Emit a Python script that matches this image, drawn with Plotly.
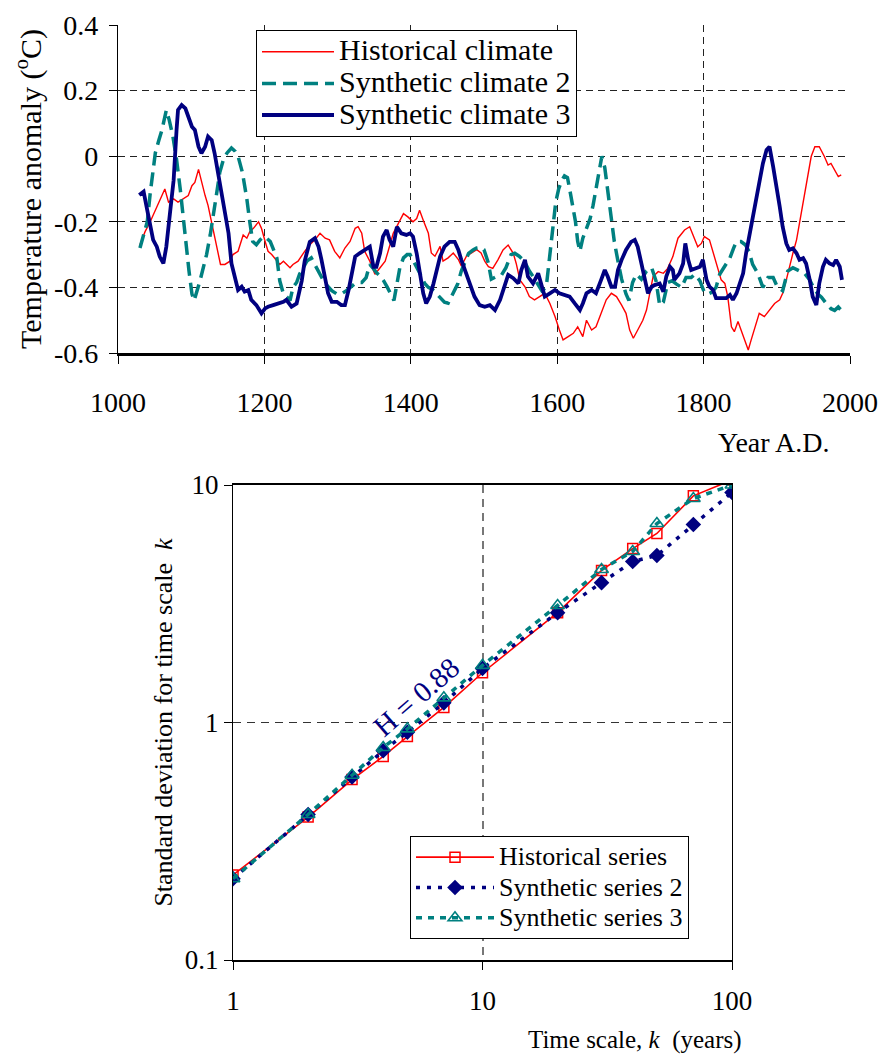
import plotly.graph_objects as go

FONT = "Liberation Serif"

# ---------------- Top chart data (temperature anomaly, deg C) ----------------
hist_years = [1030, 1037, 1044, 1050, 1057, 1064, 1069, 1076, 1082, 1089, 1096, 1101, 1105, 1110, 1114,
              1119, 1123, 1128, 1132, 1137, 1140, 1146, 1153, 1157, 1164, 1171, 1176, 1180, 1185, 1192,
              1196, 1201, 1205, 1210, 1217, 1221, 1226, 1230, 1235, 1239, 1246, 1255, 1262, 1269, 1276,
              1283, 1289, 1296, 1303, 1310, 1317, 1324, 1328, 1333, 1337, 1344, 1351, 1358, 1365, 1369,
              1376, 1383, 1390, 1396, 1403, 1408, 1412, 1417, 1424, 1428, 1433, 1440, 1444, 1451, 1458,
              1465, 1469, 1476, 1483, 1490, 1496, 1501, 1506, 1512, 1519, 1526, 1533, 1540, 1544, 1549,
              1556, 1562, 1569, 1576, 1583, 1590, 1597, 1603, 1608, 1615, 1622, 1628, 1635, 1640, 1647,
              1653, 1660, 1667, 1674, 1681, 1688, 1694, 1699, 1704, 1710, 1717, 1722, 1726, 1731, 1738,
              1745, 1751, 1758, 1765, 1774, 1781, 1788, 1792, 1797, 1801, 1808, 1815, 1820, 1824, 1829,
              1833, 1838, 1842, 1847, 1851, 1856, 1861, 1865, 1870, 1876, 1883, 1890, 1897, 1904, 1908,
              1913, 1917, 1922, 1927, 1931, 1936, 1942, 1947, 1952, 1958, 1965, 1970, 1974, 1979, 1984, 1988]
hist_vals = [-0.27, -0.23, -0.20, -0.17, -0.14, -0.10, -0.14, -0.13, -0.14, -0.13, -0.12, -0.09, -0.08, -0.04, -0.08,
             -0.12, -0.15, -0.20, -0.24, -0.29, -0.33, -0.33, -0.32, -0.30, -0.29, -0.24, -0.25, -0.23, -0.22, -0.20,
             -0.22, -0.26, -0.29, -0.30, -0.32, -0.33, -0.32, -0.33, -0.34, -0.33, -0.32, -0.29, -0.27, -0.255, -0.235,
             -0.25, -0.255, -0.29, -0.31, -0.28, -0.26, -0.22, -0.215, -0.235, -0.29, -0.32, -0.36, -0.34, -0.32, -0.29,
             -0.235, -0.205, -0.175, -0.185, -0.20, -0.19, -0.165, -0.195, -0.235, -0.295, -0.305, -0.275, -0.32, -0.31, -0.295,
             -0.315, -0.335, -0.305, -0.295, -0.285, -0.295, -0.32, -0.337, -0.342, -0.316, -0.286, -0.271, -0.296, -0.327, -0.377,
             -0.398, -0.428, -0.438, -0.428, -0.418, -0.449, -0.489, -0.53, -0.56, -0.55, -0.54, -0.52, -0.55, -0.50, -0.53,
             -0.52, -0.479, -0.438, -0.418, -0.428, -0.454, -0.479, -0.53, -0.555, -0.53, -0.50, -0.469, -0.428, -0.367, -0.352,
             -0.357, -0.342, -0.306, -0.25, -0.225, -0.215, -0.255, -0.276, -0.266, -0.245, -0.255, -0.306, -0.347, -0.377, -0.388,
             -0.428, -0.52, -0.535, -0.504, -0.53, -0.56, -0.591, -0.56, -0.52, -0.479, -0.489, -0.469, -0.449, -0.438, -0.418,
             -0.377, -0.337, -0.296, -0.255, -0.205, -0.134, -0.062, -0.001, 0.029, 0.029, -0.001, -0.027, -0.022, -0.042, -0.062, -0.057]

syn2_years = [1030, 1035, 1040, 1044, 1048, 1051, 1056, 1060, 1066, 1070, 1075, 1080, 1085, 1089, 1093,
              1097, 1101, 1104, 1112, 1117, 1121, 1126, 1130, 1135, 1139, 1144, 1149, 1155, 1160, 1164,
              1170, 1176, 1180, 1184, 1189, 1194, 1199, 1203, 1208, 1212, 1217, 1221, 1226, 1231, 1235,
              1239, 1244, 1248, 1253, 1258, 1264, 1269, 1276, 1282, 1288, 1292, 1299, 1305, 1312, 1317,
              1323, 1328, 1333, 1339, 1344, 1348, 1353, 1358, 1363, 1368, 1372, 1377, 1381, 1385, 1390,
              1395, 1399, 1404, 1408, 1413, 1419, 1424, 1429, 1435, 1440, 1446, 1451, 1458, 1464, 1469,
              1474, 1479, 1485, 1490, 1496, 1500, 1506, 1510, 1517, 1524, 1530, 1537, 1542, 1548, 1555,
              1562, 1568, 1574, 1579, 1585, 1590, 1594, 1598, 1602, 1606, 1610, 1614, 1617, 1621, 1625,
              1628, 1631, 1635, 1640, 1645, 1649, 1653, 1657, 1661, 1665, 1669, 1674, 1678, 1683, 1688,
              1694, 1698, 1703, 1708, 1715, 1722, 1729, 1735, 1740, 1745, 1751, 1757, 1763, 1770, 1776,
              1783, 1788, 1795, 1801, 1806, 1811, 1817, 1822, 1829, 1836, 1841, 1845, 1851, 1857, 1862,
              1867, 1874, 1881, 1888, 1895, 1901, 1908, 1915, 1922, 1931, 1938, 1945, 1950, 1956, 1961,
              1968, 1974, 1979, 1984, 1988]
syn2_vals = [-0.28, -0.235, -0.20, -0.113, -0.03, 0.01, 0.05, 0.08, 0.14, 0.11, 0.06, -0.01, -0.10, -0.19, -0.28,
             -0.35, -0.42, -0.44, -0.38, -0.34, -0.30, -0.24, -0.175, -0.11, -0.05, -0.01, 0.01, 0.025, 0.015, 0.0,
             -0.05, -0.13, -0.20, -0.26, -0.27, -0.255, -0.245, -0.25, -0.26, -0.28, -0.31, -0.38, -0.42, -0.43, -0.44,
             -0.40, -0.385, -0.36, -0.34, -0.32, -0.31, -0.33, -0.36, -0.385, -0.40, -0.41, -0.42, -0.42, -0.41, -0.40,
             -0.39, -0.385, -0.385, -0.37, -0.33, -0.34, -0.355, -0.365, -0.38, -0.40, -0.42, -0.44, -0.39, -0.34, -0.31,
             -0.30, -0.30, -0.32, -0.34, -0.36, -0.388, -0.40, -0.405, -0.42, -0.43, -0.445, -0.448, -0.417, -0.39, -0.35,
             -0.32, -0.296, -0.286, -0.28, -0.278, -0.285, -0.326, -0.375, -0.367, -0.362, -0.34, -0.30, -0.296, -0.305, -0.32,
             -0.35, -0.37, -0.39, -0.41, -0.40, -0.30, -0.22, -0.14, -0.10, -0.075, -0.06, -0.065, -0.10, -0.15, -0.20,
             -0.26, -0.29, -0.25, -0.22, -0.19, -0.15, -0.10, -0.05, 0.0, -0.035, -0.105, -0.19, -0.26, -0.32, -0.375,
             -0.42, -0.44, -0.385, -0.36, -0.375, -0.35, -0.34, -0.38, -0.455, -0.445, -0.385, -0.38, -0.39, -0.40, -0.37,
             -0.37, -0.36, -0.38, -0.415, -0.42, -0.415, -0.40, -0.36, -0.335, -0.31, -0.28, -0.26, -0.26, -0.27, -0.29,
             -0.33, -0.357, -0.40, -0.37, -0.37, -0.40, -0.41, -0.35, -0.34, -0.35, -0.357, -0.377, -0.40, -0.42, -0.43,
             -0.45, -0.465, -0.47, -0.46, -0.47]

syn3_years = [1029, 1035, 1039, 1044, 1048, 1053, 1057, 1062, 1066, 1071, 1076, 1080, 1082, 1087, 1092,
              1096, 1101, 1105, 1110, 1114, 1119, 1123, 1128, 1132, 1137, 1142, 1146, 1151, 1155, 1160,
              1164, 1169, 1173, 1178, 1182, 1189, 1196, 1201, 1205, 1212, 1219, 1226, 1230, 1237, 1244,
              1251, 1255, 1262, 1269, 1274, 1278, 1283, 1287, 1292, 1299, 1305, 1310, 1315, 1319, 1324,
              1330, 1337, 1344, 1349, 1353, 1358, 1362, 1367, 1371, 1376, 1381, 1387, 1394, 1399, 1403,
              1408, 1412, 1417, 1421, 1426, 1431, 1435, 1440, 1446, 1453, 1460, 1465, 1469, 1474, 1481,
              1487, 1494, 1501, 1508, 1515, 1522, 1528, 1533, 1540, 1547, 1551, 1556, 1560, 1567, 1574,
              1578, 1583, 1590, 1597, 1603, 1610, 1617, 1624, 1631, 1635, 1640, 1647, 1653, 1660, 1665,
              1669, 1674, 1679, 1683, 1688, 1694, 1701, 1706, 1710, 1715, 1720, 1724, 1729, 1733, 1740,
              1745, 1749, 1754, 1758, 1760, 1767, 1772, 1775, 1779, 1783, 1790, 1795, 1799, 1804, 1808,
              1813, 1817, 1824, 1831, 1836, 1840, 1845, 1849, 1854, 1858, 1863, 1867, 1872, 1876, 1881,
              1886, 1890, 1895, 1899, 1904, 1908, 1913, 1917, 1922, 1927, 1931, 1936, 1940, 1945, 1949,
              1954, 1958, 1963, 1967, 1972, 1977, 1981, 1986, 1989]
syn3_vals = [-0.118, -0.108, -0.154, -0.205, -0.255, -0.276, -0.306, -0.327, -0.276, -0.174, -0.073, 0.08, 0.141, 0.156, 0.146,
             0.121, 0.09, 0.08, 0.029, 0.009, 0.029, 0.06, 0.049, 0.009, -0.052, -0.113, -0.164, -0.235, -0.327, -0.377,
             -0.408, -0.398, -0.413, -0.408, -0.438, -0.454, -0.479, -0.464, -0.459, -0.454, -0.449, -0.444, -0.438, -0.459, -0.449,
             -0.38, -0.32, -0.261, -0.25, -0.276, -0.316, -0.367, -0.418, -0.444, -0.444, -0.454, -0.454, -0.408, -0.357, -0.306,
             -0.296, -0.286, -0.276, -0.337, -0.337, -0.296, -0.245, -0.225, -0.255, -0.276, -0.215, -0.235, -0.24, -0.235, -0.245,
             -0.296, -0.357, -0.418, -0.449, -0.428, -0.388, -0.347, -0.306, -0.276, -0.261, -0.261, -0.286, -0.316, -0.347, -0.388,
             -0.428, -0.454, -0.459, -0.454, -0.469, -0.438, -0.398, -0.362, -0.372, -0.388, -0.347, -0.316, -0.367, -0.388, -0.357,
             -0.388, -0.428, -0.418, -0.408, -0.418, -0.423, -0.428, -0.449, -0.469, -0.449, -0.418, -0.408, -0.418, -0.377, -0.347,
             -0.367, -0.398, -0.398, -0.347, -0.316, -0.286, -0.261, -0.255, -0.276, -0.327, -0.377, -0.418, -0.398, -0.393, -0.388,
             -0.413, -0.367, -0.337, -0.347, -0.377, -0.357, -0.327, -0.266, -0.316, -0.347, -0.342, -0.337, -0.316, -0.377, -0.398,
             -0.408, -0.433, -0.433, -0.433, -0.423, -0.438, -0.418, -0.388, -0.357, -0.296, -0.235, -0.184, -0.123, -0.073, -0.022,
             0.019, 0.029, -0.032, -0.083, -0.154, -0.215, -0.266, -0.286, -0.281, -0.296, -0.316, -0.311, -0.327, -0.377, -0.428,
             -0.454, -0.388, -0.337, -0.316, -0.327, -0.332, -0.316, -0.337, -0.377]

top_names = ["Historical climate", "Synthetic climate 2", "Synthetic climate 3"]
top_xticks = [1000, 1200, 1400, 1600, 1800, 2000]
top_yticks = [-0.6, -0.4, -0.2, 0.0, 0.2, 0.4]
top_ytext = ["-0.6", "-0.4", "-0.2", "0", "0.2", "0.4"]

# ---------------- Bottom chart data (std. dev. vs time scale) ----------------
k_scale = [1, 2, 3, 4, 5, 7, 10, 20, 30, 40, 50, 70, 100]
sd_hist = [0.228, 0.40, 0.575, 0.72, 0.873, 1.157, 1.62, 2.9, 4.37, 5.4, 6.25, 9.0, 10.5]
sd_syn2 = [0.22, 0.41, 0.59, 0.76, 0.91, 1.21, 1.69, 2.9, 3.88, 4.76, 5.05, 6.82, 9.3]
sd_syn3 = [0.22, 0.41, 0.60, 0.785, 0.94, 1.27, 1.74, 3.11, 4.41, 5.25, 6.88, 8.77, 10.0]
bottom_names = ["Historical series", "Synthetic series 2", "Synthetic series 3"]
bot_xticks = [1, 10, 100]
bot_xtext = ["1", "10", "100"]
bot_yticks = [0.1, 1, 10]
bot_ytext = ["0.1", "1", "10"]

RED = "#FF0000"
TEAL = "#008080"
NAVY = "#000080"


def big(txt, size):
    # larger legend text while keeping the tight row spacing of the original legend
    return '<span style="font-size:%dpx">%s</span>' % (size, txt)


fig = go.Figure()

# top traces
fig.add_trace(go.Scatter(x=hist_years, y=hist_vals, name=big(top_names[0], 30), mode="lines",
                         line=dict(color=RED, width=1.4), xaxis="x", yaxis="y", legend="legend"))
fig.add_trace(go.Scatter(x=syn2_years, y=syn2_vals, name=big(top_names[1], 30), mode="lines",
                         line=dict(color=TEAL, width=3.5, dash="14px,7px"), xaxis="x", yaxis="y", legend="legend"))
fig.add_trace(go.Scatter(x=syn3_years, y=syn3_vals, name=big(top_names[2], 30), mode="lines",
                         line=dict(color=NAVY, width=3.8), xaxis="x", yaxis="y", legend="legend"))

# bottom traces
fig.add_trace(go.Scatter(x=k_scale, y=sd_hist, name=big(bottom_names[0], 26), mode="lines+markers",
                         line=dict(color=RED, width=1.6),
                         marker=dict(symbol="square-open", size=10, color=RED, line=dict(width=1.5)),
                         xaxis="x2", yaxis="y2", legend="legend2"))
fig.add_trace(go.Scatter(x=k_scale, y=sd_syn2, name=big(bottom_names[1], 26), mode="lines+markers",
                         line=dict(color=NAVY, width=3.5, dash="4px,7px"),
                         marker=dict(symbol="diamond", size=12, color=NAVY),
                         xaxis="x2", yaxis="y2", legend="legend2"))
fig.add_trace(go.Scatter(x=k_scale, y=sd_syn3, name=big(bottom_names[2], 26), mode="lines+markers",
                         line=dict(color=TEAL, width=3.5, dash="6px,6px"),
                         marker=dict(symbol="triangle-up-open", size=12, color=TEAL, line=dict(width=1.6)),
                         xaxis="x2", yaxis="y2", legend="legend2"))

W, H = 882, 1055

fig.update_layout(
    width=W, height=H,
    margin=dict(l=0, r=0, t=0, b=0),
    paper_bgcolor="white", plot_bgcolor="white",
    font=dict(family=FONT, size=26, color="black"),
    xaxis=dict(domain=[118 / W, 850 / W], range=[1000, 2000], tickvals=top_xticks,
               showgrid=True, gridcolor="#222", gridwidth=1, griddash="7px,5px",
               showline=True, linecolor="black", linewidth=2.5, zeroline=False,
               ticks="outside", ticklen=8, tickcolor="black", tickwidth=1,
               tickfont=dict(family=FONT, size=28), ticklabelstandoff=15,
               anchor="y", automargin=False),
    yaxis=dict(domain=[1 - 353 / H, 1 - 25 / H], range=[-0.6, 0.4], tickvals=top_yticks, ticktext=top_ytext,
               showgrid=True, gridcolor="#222", gridwidth=1, griddash="7px,5px",
               showline=True, linecolor="black", linewidth=1.2, zeroline=False,
               ticks="outside", ticklen=8, tickcolor="black", tickwidth=1,
               tickfont=dict(family=FONT, size=28), ticklabelstandoff=5,
               title=dict(text="Temperature anomaly (<sup>o</sup>C)", font=dict(family=FONT, size=30), standoff=3),
               anchor="x", automargin=False),
    xaxis2=dict(domain=[233 / W, 732 / W], type="log", range=[0, 2], tickvals=bot_xticks, ticktext=bot_xtext,
                showgrid=True, gridcolor="#777", gridwidth=1.5, griddash="8px,6px",
                showline=True, linecolor="black", linewidth=1.5, mirror=True, zeroline=False,
                ticks="outside", ticklen=8, tickcolor="black", tickwidth=1,
                tickfont=dict(family=FONT, size=27), ticklabelstandoff=8,
                anchor="y2", automargin=False),
    yaxis2=dict(domain=[1 - 960 / H, 1 - 485 / H], type="log", range=[-1, 1], tickvals=bot_yticks, ticktext=bot_ytext,
                showgrid=True, gridcolor="#333", gridwidth=1.2, griddash="8px,6px",
                showline=True, linecolor="black", linewidth=1.2, mirror=True, zeroline=False,
                ticks="outside", ticklen=8, tickcolor="black", tickwidth=1,
                tickfont=dict(family=FONT, size=27),
                title=dict(text="Standard deviation for time scale&nbsp; <i>k</i>", font=dict(family=FONT, size=26), standoff=4),
                anchor="x2", automargin=False),
    legend=dict(x=256 / W, y=1 - 30 / H, xanchor="left", yanchor="top",
                bgcolor="white", bordercolor="black", borderwidth=1,
                font=dict(family=FONT, size=22, color="black"), tracegroupgap=0, itemwidth=72),
    legend2=dict(x=410 / W, y=1 - 836 / H, xanchor="left", yanchor="top",
                 bgcolor="white", bordercolor="black", borderwidth=1,
                 font=dict(family=FONT, size=21, color="black"), tracegroupgap=0, itemwidth=78),
    showlegend=True,
    annotations=[
        dict(text="Year A.D.", xref="paper", yref="paper", x=832 / W, y=1 - 442 / H,
             xanchor="right", yanchor="middle", showarrow=False, font=dict(family=FONT, size=28)),
        dict(text="Time scale, <i>k</i>&nbsp; (years)", xref="paper", yref="paper", x=744 / W, y=1 - 1040 / H,
             xanchor="right", yanchor="middle", showarrow=False, font=dict(family=FONT, size=25)),
        dict(text="H = 0.88", xref="paper", yref="paper", x=416 / W, y=1 - 697 / H,
             xanchor="center", yanchor="middle", showarrow=False, textangle=-41,
             font=dict(family=FONT, size=29, color=NAVY)),
    ],
)

fig.write_html("out.html")
